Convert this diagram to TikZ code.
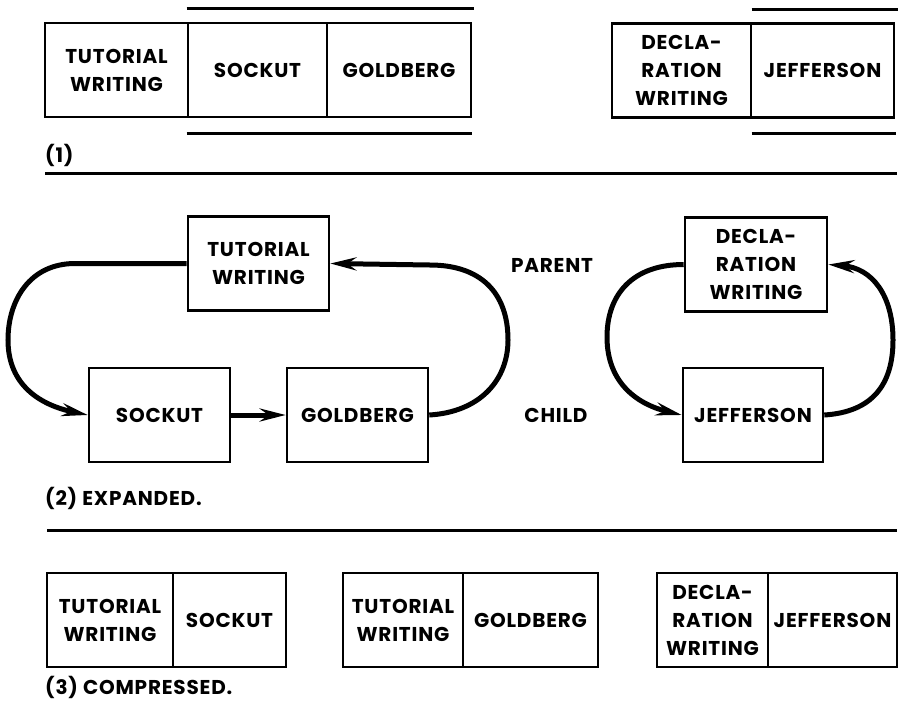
\documentclass[tikz,border=0pt]{standalone}
\usepackage{fontspec}
\setmainfont{Poppins}
\usetikzlibrary{arrows.meta}
\begin{document}
\begin{tikzpicture}[x=1pt,y=-1pt,
  lbl/.style={font=\bfseries\fontsize{20}{28}\selectfont\addfontfeatures{LetterSpace=4}, align=center, inner sep=0pt},
  cell/.style={lbl, draw, line width=2.6pt, minimum height=94pt},
  rule/.style={line width=3pt},
  link/.style={line width=5pt, -{Stealth[length=26pt,width=13pt,inset=9pt]}},
  note/.style={lbl, anchor=west}]
\useasboundingbox (0,0) rectangle (899,710);
\fill[white] (0,0) rectangle (899,710);

% ---- (1) plain records ----
\node[cell, minimum width=143pt] (tw1) at (116.5,70) {TUTORIAL\\WRITING};
\node[cell, minimum width=139pt] (so1) at (257.5,70) {SOCKUT};
\node[cell, minimum width=144pt] (go1) at (399,70) {GOLDBERG};
\node[cell, minimum width=139pt] (dw1) at (681.5,70.5) {DECLA-\\RATION\\WRITING};
\node[cell, minimum width=143pt] (je1) at (822.5,70.5) {JEFFERSON};
\draw[rule] ([yshift=13pt]so1.north west) -- ([yshift=13pt,xshift=2pt]go1.north east);
\draw[rule] ([yshift=-15pt]so1.south west) -- ([yshift=-15pt]go1.south east);
\draw[rule] ([yshift=13pt,xshift=2pt]je1.north west) -- ([yshift=13pt,xshift=3pt]je1.north east);
\draw[rule] ([yshift=-15pt,xshift=2pt]je1.south west) -- ([yshift=-15pt,xshift=1pt]je1.south east);
\node[note] (cap1) at (45,155) {(1)};
\coordinate (r1a) at (45,173);
\coordinate (r1b) at (897,173);
\draw[rule] (r1a) -- (r1b);

% ---- (2) expanded ----
\node[cell, minimum width=141pt] (tw2) at (258.5,263.5) {TUTORIAL\\WRITING};
\node[cell, minimum width=141pt] (so2) at (159.5,415) {SOCKUT};
\node[cell, minimum width=141pt] (go2) at (357.5,415) {GOLDBERG};
\node[cell, minimum width=142pt] (dw2) at (756,264.5) {DECLA-\\RATION\\WRITING};
\node[cell, minimum width=140pt] (je2) at (753,415) {JEFFERSON};
\node[lbl] (par) at (552,265) {PARENT};
\node[lbl] (chi) at (556,415) {CHILD};

\draw[link] (tw2.west) -- (75,263.5) .. controls (30,263.5) and (8,300) .. (8,340)
   .. controls (8,385) and (40,405) .. (so2.west);
\draw[link] (so2.east) -- (go2.west);
\draw[link] (go2.east) .. controls (480,412) and (508,380) .. (508,340)
   .. controls (508,292) and (480,265) .. (430,265) -- (tw2.east);
\draw[link] (dw2.west) .. controls (632,264.5) and (607,295) .. (607,337)
   .. controls (607,385) and (640,405) .. (je2.west);
\draw[link] (je2.east) .. controls (872,412) and (893,385) .. (893,340)
   .. controls (893,295) and (872,268) .. (dw2.east);

\node[note] (cap2) at (45,498) {(2) EXPANDED.};
\coordinate (r2a) at (47,530);
\coordinate (r2b) at (897,530);
\draw[rule] (r2a) -- (r2b);

% ---- (3) compressed ----
\node[cell, minimum width=126pt] (tw3) at (110,620) {TUTORIAL\\WRITING};
\node[cell, minimum width=113pt] (so3) at (229.5,620) {SOCKUT};
\node[cell, minimum width=120pt] (tw4) at (403,620) {TUTORIAL\\WRITING};
\node[cell, minimum width=135pt] (go3) at (530.5,620) {GOLDBERG};
\node[cell, minimum width=111pt] (dw3) at (712.5,620) {DECLA-\\RATION\\WRITING};
\node[cell, minimum width=129pt] (je3) at (832.5,620) {JEFFERSON};
\node[note] (cap3) at (45,687) {(3) COMPRESSED.};
\end{tikzpicture}
\end{document}
